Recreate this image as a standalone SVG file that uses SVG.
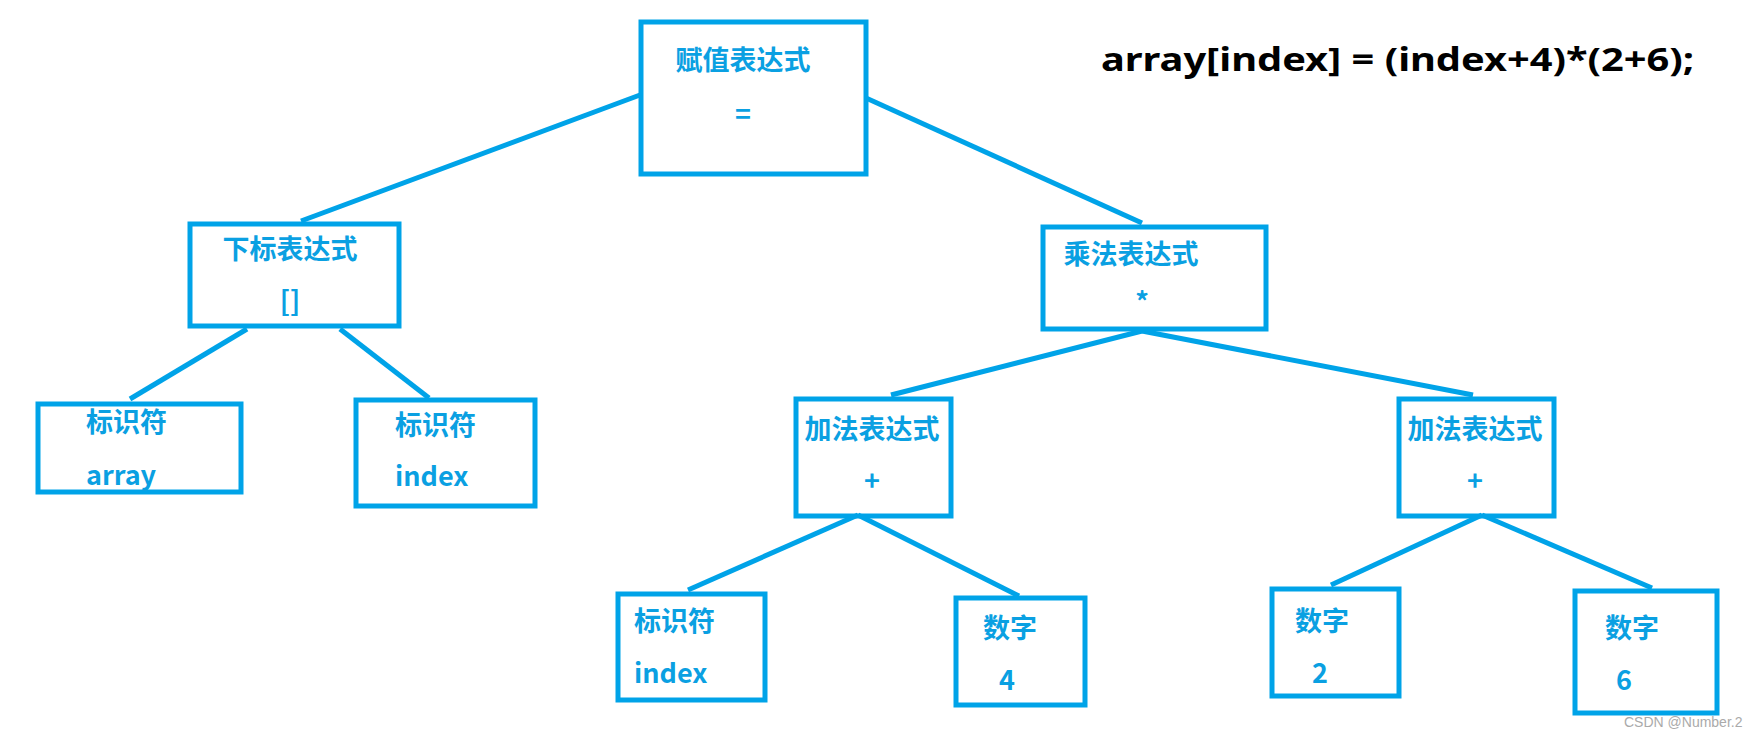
<svg xmlns="http://www.w3.org/2000/svg" width="1747" height="737" viewBox="0 0 1747 737">
<style>
.b{fill:none;stroke:#00a3e8;stroke-width:5}
.t{font-family:"Noto Sans CJK SC","Noto Sans",sans-serif;font-weight:bold;font-size:27px;fill:#0aa0e2}
.c{text-anchor:middle}
line{stroke:#00a3e8;stroke-width:5}
</style>
<rect width="1747" height="737" fill="#fff"/>
<g id="connectors">
<line x1="640" y1="95" x2="301" y2="221"/>
<line x1="866" y1="98" x2="1142" y2="223"/>
<line x1="247" y1="329" x2="130" y2="399"/>
<line x1="340" y1="329" x2="429" y2="398"/>
<line x1="1142" y1="331" x2="891" y2="395"/>
<line x1="1142" y1="331" x2="1473" y2="395"/>
<line x1="858" y1="515" x2="688" y2="590"/>
<line x1="858" y1="515" x2="1019" y2="596"/>
<line x1="1482" y1="515" x2="1331" y2="585"/>
<line x1="1482" y1="515" x2="1652" y2="588"/>
</g>
<g id="assign"><rect class="b" x="641" y="22" width="225" height="152"/><text class="t c" x="743" y="70">赋值表达式</text><text class="t c" x="743" y="124">=</text></g>
<g id="subscript"><rect class="b" x="190" y="224" width="209" height="102"/><text class="t c" x="290" y="259">下标表达式</text><text class="t c" x="290" y="311">[]</text></g>
<g id="id-array"><rect class="b" x="38" y="404" width="203" height="88"/><text class="t" x="86" y="432">标识符</text><text class="t" x="86" y="485">array</text></g>
<g id="id-index1"><rect class="b" x="356" y="400" width="179" height="106"/><text class="t" x="395" y="435">标识符</text><text class="t" x="395" y="486">index</text></g>
<g id="mul"><rect class="b" x="1043" y="227" width="223" height="102"/><text class="t c" x="1131" y="264">乘法表达式</text><text class="t c" x="1142" y="312">*</text></g>
<g id="add1"><rect class="b" x="796" y="399" width="155" height="117"/><text class="t c" x="872" y="439">加法表达式</text><text class="t c" x="872" y="491">+</text></g>
<g id="add2"><rect class="b" x="1399" y="399" width="155" height="117"/><text class="t c" x="1475" y="439">加法表达式</text><text class="t c" x="1475" y="491">+</text></g>
<g id="id-index2"><rect class="b" x="618" y="594" width="147" height="106"/><text class="t" x="634" y="631">标识符</text><text class="t" x="634" y="683">index</text></g>
<g id="num4"><rect class="b" x="956" y="598" width="129" height="107"/><text class="t c" x="1010" y="638">数字</text><text class="t c" x="1007" y="690">4</text></g>
<g id="num2"><rect class="b" x="1272" y="589" width="127" height="107"/><text class="t c" x="1322" y="631">数字</text><text class="t c" x="1320" y="683">2</text></g>
<g id="num6"><rect class="b" x="1575" y="591" width="142" height="122"/><text class="t c" x="1632" y="638">数字</text><text class="t c" x="1624" y="690">6</text></g>
<text x="1101" y="71" font-family="'Noto Sans','Open Sans',sans-serif" font-weight="bold" font-size="32" fill="#000" textLength="593" lengthAdjust="spacingAndGlyphs">array[index] = (index+4)*(2+6);</text>
<text x="1624" y="727" font-family="'Liberation Sans',Arial,sans-serif" font-size="14" fill="#aaa">CSDN @Number.2</text>
</svg>
